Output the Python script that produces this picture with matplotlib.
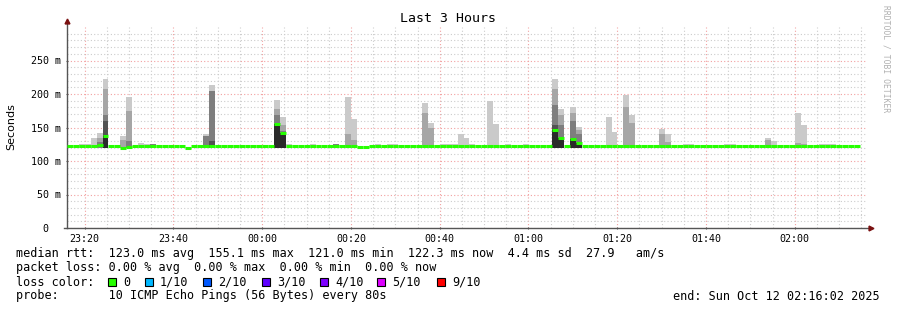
import numpy as np
import matplotlib
matplotlib.use('Agg')
import matplotlib.pyplot as plt
from matplotlib.patches import Rectangle

W, H = 897, 310
STEP = 80  # seconds per column
SPAN = 3 * 3600
MONO = 'DejaVu Sans Mono'

# median rtt per 80s column (ms), 134 columns from 23:16:02
median_ms = [
    122, 122, 122, 123, 123, 124, 138, 122, 122, 120,
    121, 122, 122, 122, 122, 122, 122, 122, 122, 122,
    120, 122, 122, 122, 122, 122, 122, 122, 122, 122,
    122, 122, 122, 122, 122, 155, 142, 122, 122, 122,
    122, 122, 122, 122, 122, 122, 122, 122, 122, 121,
    121, 122, 122, 122, 122, 122, 122, 122, 122, 122,
    122, 122, 122, 122, 122, 122, 122, 122, 122, 122,
    122, 122, 122, 122, 122, 122, 122, 122, 122, 122,
    122, 122, 147, 135, 122, 133, 127, 122, 122, 122,
    122, 122, 122, 122, 122, 122, 122, 122, 122, 122,
    122, 122, 122, 122, 122, 122, 122, 122, 122, 122,
    122, 122, 122, 122, 122, 122, 122, 122, 122, 122,
    122, 122, 122, 122, 122, 122, 122, 122, 122, 122,
    122, 122, 122, 122,
]

# smoke columns: index, lowest ping and the tops of the grey layers (light -> dark)
nan = np.nan
smoke_col = [2, 3, 4, 5, 6, 9, 10, 12, 13, 14, 23, 24, 35, 36, 37, 41, 45, 47, 48,
             52, 54, 55, 60, 61, 63, 64, 65, 66, 67, 68, 71, 72, 74, 77, 82, 83, 85,
             86, 91, 92, 94, 95, 100, 101, 104, 105, 111, 112, 118, 119, 123, 124,
             127, 128, 129]
smoke_lo = [120, 120, 119, 119, 120, 119, 119, 120, 120, 120, 120, 120, 120, 120, 120,
            120, 120, 120, 120, 120, 120, 120, 120, 120, 120, 120, 120, 120, 120, 120,
            120, 120, 120, 120, 120, 120, 120, 120, 120, 120, 120, 120, 120, 120, 120,
            120, 120, 120, 120, 120, 120, 120, 120, 120, 119]
smoke_t1 = [125, 125, 135, 142, 223, 138, 196, 127, 126, nan, 141, 214, 191, 166, 125,
            125, nan, 195, 162, 125, 125, 125, 187, 157, 125, 126, 126, 141, 135, 126,
            189, 155, 126, 125, 223, 177, 180, 151, 165, 144, 198, 169, 148, 141, 126,
            126, 126, 126, 135, 130, 171, 154, 126, 126, 125]
smoke_t2 = [nan, nan, nan, 134, 208, 132, 175, nan, nan, nan, nan, nan, 178, 154, nan,
            nan, nan, 141, 132, nan, nan, nan, 172, 150, nan, nan, nan, nan, nan, nan,
            nan, nan, nan, nan, 207, 168, 171, 147, nan, nan, 180, 157, 140, 128, nan,
            nan, nan, nan, 131, nan, 127, 126, nan, nan, nan]
smoke_t3 = [nan, nan, nan, 128, 168, nan, 130, nan, nan, 126, 138, 204, 168, 145, nan,
            nan, 125, nan, nan, nan, nan, nan, nan, nan, nan, nan, nan, nan, nan, nan,
            nan, nan, nan, nan, 183, 154, 159, 140, nan, nan, nan, nan, nan, nan, nan,
            nan, nan, nan, nan, nan, nan, nan, nan, nan, nan]
smoke_t4 = [nan, nan, nan, nan, 160, nan, nan, nan, nan, nan, nan, 130, nan, nan, nan,
            nan, nan, nan, nan, nan, nan, nan, nan, nan, nan, nan, nan, nan, nan, nan,
            nan, nan, nan, nan, 153, nan, nan, nan, nan, nan, nan, nan, nan, nan, nan,
            nan, nan, nan, nan, nan, nan, nan, nan, nan, nan]
smoke_t5 = [nan, nan, nan, nan, 138, nan, nan, nan, nan, nan, nan, nan, 155, 142, nan,
            nan, nan, nan, nan, nan, nan, nan, nan, nan, nan, nan, nan, nan, nan, nan,
            nan, nan, nan, nan, 147, 135, 133, 127, nan, nan, nan, nan, nan, nan, nan,
            nan, nan, nan, nan, nan, nan, nan, nan, nan, nan]
smoke_grey = ['#cacaca', '#a6a6a6', '#7e7e7e', '#525252', '#2a2a2a']

x_labels = ['23:20', '23:40', '00:00', '00:20', '00:40', '01:00', '01:20', '01:40', '02:00']
y_ticks = [0, 50, 100, 150, 200, 250]
y_labels = ['0  ', '50 m', '100 m', '150 m', '200 m', '250 m']

loss_labels = ['0', '1/10', '2/10', '3/10', '4/10', '5/10', '9/10']
loss_colors = ['#26ff00', '#00b8ff', '#0059ff', '#5e00ff', '#7e00ff', '#dd00ff', '#ff0000']
loss_x = [108, 145, 203, 262, 320, 377, 437]

fig = plt.figure(figsize=(W / 100, H / 100), dpi=100)
fig.patch.set_facecolor('white')
ax = fig.add_axes([67 / W, (H - 228) / H, (866 - 67) / W, (228 - 27) / H])

# smoke
cols = np.array(smoke_col) * STEP
lo = np.array(smoke_lo, dtype=float)
for layer, grey in zip([smoke_t1, smoke_t2, smoke_t3, smoke_t4, smoke_t5], smoke_grey):
    top = np.array(layer, dtype=float)
    ok = ~np.isnan(top)
    ax.bar(cols[ok], top[ok] - lo[ok], bottom=lo[ok], width=STEP, align='edge',
           color=grey, linewidth=0, zorder=2)

# median line
xs = np.arange(len(median_ms)) * STEP
ax.hlines(median_ms, xs, xs + STEP, colors='#26ff00', linewidth=2.2, zorder=3)

# axes
start_min = 23 * 60 + 16 + 2 / 60
x_pos = []
for lab in x_labels:
    h, m = lab.split(':')
    x_pos.append(((int(h) * 60 + int(m) - start_min) % 1440) * 60)
ax.set_xlim(0, SPAN)
ax.set_ylim(0, 300)
ax.set_xticks(x_pos)
ax.set_xticklabels(x_labels, fontfamily=MONO, fontsize=7.2)
ax.set_xticks(np.arange(x_pos[0] % 300, SPAN, 300), minor=True)
ax.set_yticks(y_ticks)
ax.set_yticklabels(y_labels, fontfamily=MONO, fontsize=7.2)
ax.set_yticks(np.arange(10, 300, 10), minor=True)
ax.tick_params(which='major', length=2, direction='inout', color='#555555', pad=3)
ax.tick_params(which='minor', length=0)
ax.grid(which='minor', color='#cccccc', linestyle=(0, (1, 2)), linewidth=0.8, zorder=1)
ax.grid(which='major', color='#f2a0a0', linestyle=(0, (1, 2)), linewidth=0.8, zorder=1)
ax.set_axisbelow(True)
for s in ax.spines.values():
    s.set_visible(False)
ax.plot([0, 0], [0, 1.025], transform=ax.transAxes, color='#555555', lw=1, clip_on=False)
ax.plot([-0.004, 1.004], [0, 0], transform=ax.transAxes, color='#555555', lw=1, clip_on=False)
ax.plot([0], [1.03], transform=ax.transAxes, marker='^', color='#7a1010', ms=3.5, clip_on=False)
ax.plot([1.006], [0], transform=ax.transAxes, marker='>', color='#7a1010', ms=3.5, clip_on=False)

# texts
fig.text(448 / W, 1 - 19 / H, 'Last 3 Hours', ha='center', va='center',
         fontfamily=MONO, fontsize=9.5)
fig.text(11 / W, 1 - 127 / H, 'Seconds', rotation=90, ha='center', va='center',
         fontsize=8)
fig.text(886 / W, 1 - 5 / H, 'RRDTOOL / TOBI OETIKER', rotation=270, ha='center', va='top',
         fontfamily=MONO, fontsize=5.8, color='#b0b0b0')

rows = [
    'median rtt:  123.0 ms avg  155.1 ms max  121.0 ms min  122.3 ms now  4.4 ms sd  27.9   am/s',
    'packet loss: 0.00 % avg  0.00 % max  0.00 % min  0.00 % now',
    'loss color:',
    'probe:       10 ICMP Echo Pings (56 Bytes) every 80s',
]
for k, row in enumerate(rows):
    fig.text(16 / W, 1 - (254 + 14 * k) / H, row, ha='left', va='center',
             fontfamily=MONO, fontsize=8.5)
fig.text(880 / W, 1 - 296 / H, 'end: Sun Oct 12 02:16:02 2025', ha='right', va='center',
         fontfamily=MONO, fontsize=8.5)

for lx, lc, ll in zip(loss_x, loss_colors, loss_labels):
    fig.patches.append(Rectangle((lx / W, 1 - 286 / H), 8 / W, 8 / H, transform=fig.transFigure,
                                 facecolor=lc, edgecolor='black', linewidth=0.8))
    fig.text((lx + 15) / W, 1 - 282 / H, ll, ha='left', va='center',
             fontfamily=MONO, fontsize=8.5)

fig.savefig('out.png', dpi=100)
